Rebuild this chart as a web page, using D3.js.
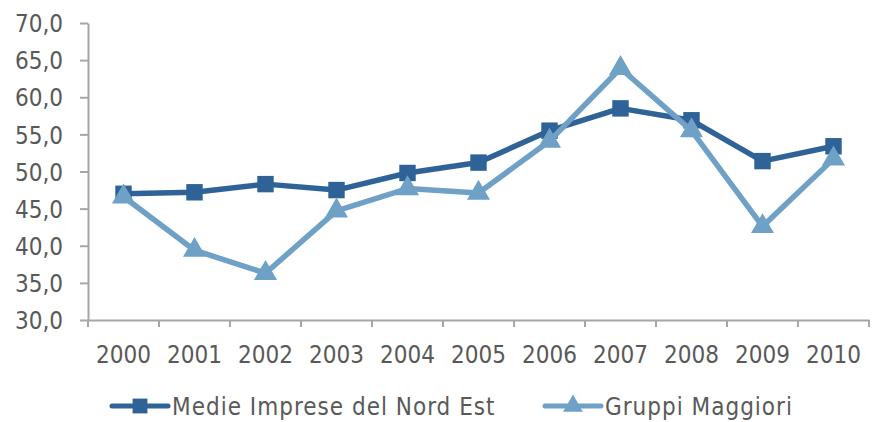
<html>
<head>
<script src="https://cdnjs.cloudflare.com/ajax/libs/d3/7.8.5/d3.min.js"></script>
<meta charset="utf-8">
<style>
  body { margin: 0; background: #fff; }
  text { font-family: "DejaVu Sans", sans-serif; font-stretch: condensed; fill: #595959; }
</style>
</head>
<body>
<script type="text/javascript">

	// data
	var years = ["2000","2001","2002","2003","2004","2005","2006","2007","2008","2009","2010"];
	var medie = [47.0, 47.2, 48.3, 47.5, 49.8, 51.2, 55.5, 58.5, 56.9, 51.4, 53.4];
	var gruppi = [46.6, 39.4, 36.3, 44.7, 47.7, 47.1, 54.1, 63.9, 55.5, 42.6, 51.7];
	var yTicks = [30, 35, 40, 45, 50, 55, 60, 65, 70];
	var seriesNames = ["Medie Imprese del Nord Est", "Gruppi Maggiori"];

	var w = 872, h = 422;
	var plotLeft = 88, plotRight = 869, plotTop = 23, plotBottom = 320;
	var darkBlue = "#2f6398", lightBlue = "#6fa1c7";
	var fmt = function(d) { return d3.format(".1f")(d).replace(".", ","); };

	var svg = d3.select("body").append("svg")
		.attr("width", w)
		.attr("height", h);

	var x = d3.scaleBand().domain(years).range([plotLeft, plotRight]);
	var y = d3.scaleLinear().domain([30, 70]).range([plotBottom, plotTop]);

	// y axis
	var yAxis = svg.append("g")
		.attr("transform", "translate(" + plotLeft + ",0)")
		.call(d3.axisLeft(y).tickValues(yTicks).tickFormat(fmt).tickSize(8).tickSizeOuter(0));
	yAxis.selectAll("text").attr("font-size", "24px").attr("dx", "-14").attr("dy", "0.36em");

	// x axis
	var xAxis = svg.append("g")
		.attr("transform", "translate(0," + plotBottom + ")")
		.call(d3.axisBottom(x).tickSize(0).tickSizeOuter(0));
	xAxis.selectAll("text").attr("font-size", "24px").attr("dy", "1.65em");
	// tick marks at the band boundaries
	xAxis.selectAll(".bound")
		.data(years.concat(["end"]))
		.enter()
		.append("line")
		.attr("class", "bound")
		.attr("x1", function(d, i) { return plotLeft + i * x.step(); })
		.attr("x2", function(d, i) { return plotLeft + i * x.step(); })
		.attr("y1", 0)
		.attr("y2", 7);

	svg.selectAll(".domain, .tick line, .bound")
		.attr("stroke", "#a6a6a6")
		.attr("stroke-width", 2);
	svg.selectAll(".tick text").attr("fill", "#595959");

	var line = d3.line()
		.x(function(d, i) { return x(years[i]) + x.bandwidth() / 2; })
		.y(function(d) { return y(d); });

	var square = d3.symbol().type(d3.symbolSquare).size(270);
	var triangle = d3.symbol().type(d3.symbolTriangle).size(230);

	function drawSeries(data, colour, sym) {
		svg.append("path")
			.datum(data)
			.attr("d", line)
			.attr("fill", "none")
			.attr("stroke", colour)
			.attr("stroke-width", 5.5)
			.attr("stroke-linejoin", "round");
		svg.selectAll(null)
			.data(data)
			.enter()
			.append("path")
			.attr("d", sym)
			.attr("transform", function(d, i) {
				return "translate(" + (x(years[i]) + x.bandwidth() / 2) + "," + y(d) + ")";
			})
			.attr("fill", colour);
	}

	drawSeries(medie, darkBlue, square);
	drawSeries(gruppi, lightBlue, triangle);

	// legend
	var legendItems = [
		{ name: seriesNames[0], colour: darkBlue, sym: d3.symbol().type(d3.symbolSquare).size(220), x: 112 },
		{ name: seriesNames[1], colour: lightBlue, sym: d3.symbol().type(d3.symbolTriangle).size(170), x: 545 }
	];
	var lg = svg.selectAll(".legend")
		.data(legendItems)
		.enter()
		.append("g")
		.attr("class", "legend")
		.attr("transform", function(d) { return "translate(" + d.x + ",406)"; });
	lg.append("line")
		.attr("x1", 0).attr("x2", 56)
		.attr("stroke", function(d) { return d.colour; })
		.attr("stroke-width", 5)
		.attr("stroke-linecap", "round");
	lg.append("path")
		.attr("d", function(d) { return d.sym(); })
		.attr("transform", "translate(28,0)")
		.attr("fill", function(d) { return d.colour; });
	lg.append("text")
		.attr("x", 60)
		.attr("dy", "0.36em")
		.attr("font-size", "24px")
		.attr("letter-spacing", "1px")
		.text(function(d) { return d.name; });
</script>
</body>
</html>
